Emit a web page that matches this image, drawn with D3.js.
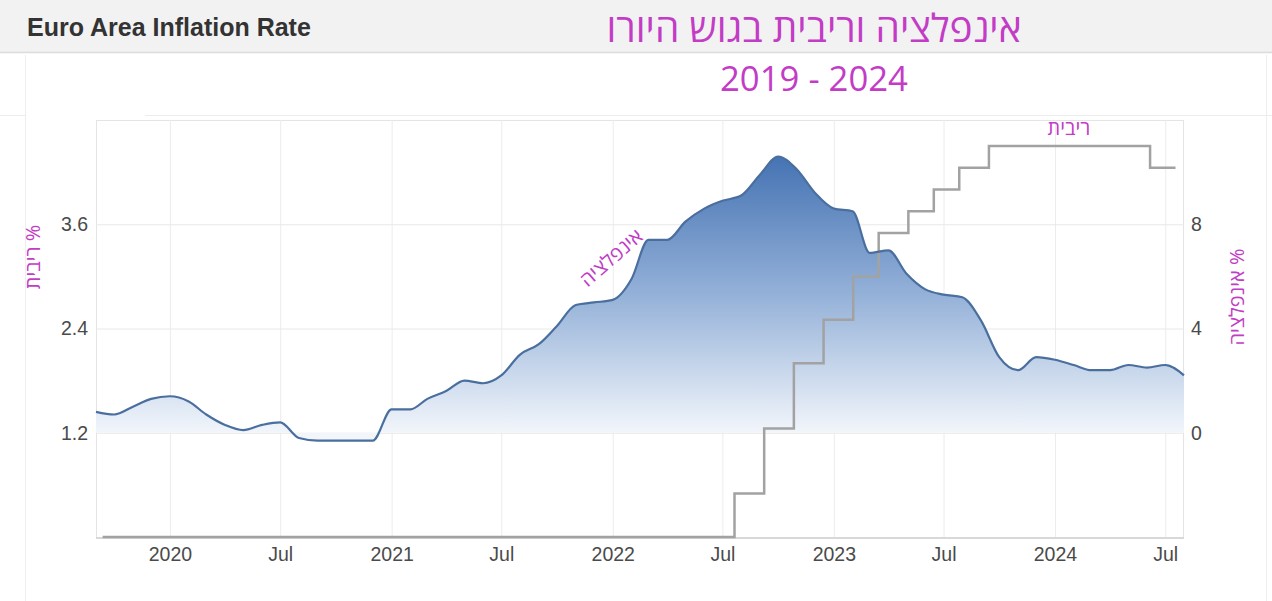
<!DOCTYPE html>
<html>
<head>
<meta charset="utf-8">
<script src="https://cdn.jsdelivr.net/npm/d3@7"></script>
<style>
  html, body { margin: 0; padding: 0; background: #ffffff; }
  svg { display: block; }
</style>
</head>
<body>
<svg id="chart" width="1272" height="601"></svg>
<script>
// ---------------- DATA ----------------
// Monthly euro area inflation (HICP, % y/y), Sep 2019 .. Aug 2024
const inflationStart = [2019, 9];
const inflationValues = [
  0.8, 0.7, 1.0, 1.3,
  1.4, 1.2, 0.7, 0.3, 0.1, 0.3, 0.4, -0.2, -0.3, -0.3, -0.3, -0.3,
  0.9, 0.9, 1.3, 1.6, 2.0, 1.9, 2.2, 3.0, 3.4, 4.1, 4.9, 5.0,
  5.1, 5.9, 7.4, 7.4, 8.1, 8.6, 8.9, 9.1, 9.9, 10.6, 10.1, 9.2,
  8.6, 8.5, 6.9, 7.0, 6.1, 5.5, 5.3, 5.2, 4.3, 2.9, 2.4, 2.9,
  2.8, 2.6, 2.4, 2.4, 2.6, 2.5, 2.6, 2.2
];
// ECB rate decisions (step line)
const rateDates = [
  "2019-09-12", "2022-07-21", "2022-09-08", "2022-10-27", "2022-12-15",
  "2023-02-02", "2023-03-16", "2023-05-04", "2023-06-15", "2023-07-27",
  "2023-09-14", "2024-06-06", "2024-07-18"
];
const rateValues = [0, 0.5, 1.25, 2.0, 2.5, 3.0, 3.5, 3.75, 4.0, 4.25, 4.5, 4.25, 4.25];

const xTickDates = [
  "2020-01-01", "2020-07-01", "2021-01-01", "2021-07-01", "2022-01-01",
  "2022-07-01", "2023-01-01", "2023-07-01", "2024-01-01", "2024-07-01"
];
const xTickLabels = ["2020", "Jul", "2021", "Jul", "2022", "Jul", "2023", "Jul", "2024", "Jul"];
const leftTicks = [1.2, 2.4, 3.6];
const rightTicks = [0, 4, 8];

const titleText = "Euro Area Inflation Rate";
const hebTitle1 = "אינפלציה וריבית בגוש היורו";
const hebTitle2 = "2019 - 2024";
const leftAxisTitle = "ריבית %";
const rightAxisTitle = "אינפלציה %";
const inflationLabel = "אינפלציה";
const rateLabel = "ריבית";

// ---------------- BUILD ----------------
const W = 1272, H = 601;
const plot = { left: 96, right: 1184, top: 120, bottom: 537 };
const magenta = "#c23cc6";
const tickFont = "'Liberation Sans', Arial, sans-serif";
const hebFont = "'Open Sans', 'Liberation Sans', 'DejaVu Sans', sans-serif";

const parse = d3.utcParse("%Y-%m-%d");
const inflation = inflationValues.map((v, i) => ({
  date: new Date(Date.UTC(inflationStart[0], inflationStart[1] - 1 + i, 1)),
  value: v
}));
const rates = rateDates.map((d, i) => ({ date: parse(d), value: rateValues[i] }));

const x = d3.scaleUtc()
  .domain([new Date(Date.UTC(2019, 8, 1)), new Date(Date.UTC(2024, 7, 1))])
  .range([plot.left, plot.right]);
const yL = d3.scaleLinear().domain([0, 4.8]).range([plot.bottom, plot.top]);
const yR = d3.scaleLinear().domain([-4, 12]).range([plot.bottom, plot.top]);

const svg = d3.select("#chart");

// header band
svg.append("rect").attr("x", 0).attr("y", 0).attr("width", W).attr("height", 52).attr("fill", "#f2f2f2");
svg.append("line").attr("x1", 0).attr("x2", W).attr("y1", 52.5).attr("y2", 52.5).attr("stroke", "#dcdcdc").attr("stroke-width", 1.5);
// faint panel frame lines (screenshot artifacts)
svg.append("line").attr("x1", 145).attr("x2", W).attr("y1", 115.5).attr("y2", 115.5).attr("stroke", "#ececec");
svg.append("line").attr("x1", 0).attr("x2", 25).attr("y1", 115.5).attr("y2", 115.5).attr("stroke", "#ececec");
svg.append("line").attr("x1", 25.5).attr("x2", 25.5).attr("y1", 55).attr("y2", H).attr("stroke", "#eeeeee");
svg.append("line").attr("x1", 1266.5).attr("x2", 1266.5).attr("y1", 55).attr("y2", H).attr("stroke", "#eeeeee");

svg.append("text").attr("x", 27).attr("y", 36)
  .attr("font-family", tickFont).attr("font-weight", "bold").attr("font-size", 25)
  .attr("fill", "#333333").text(titleText);

function fitText(sel, target) {
  const len = sel.node().getComputedTextLength();
  const fs = parseFloat(sel.attr("font-size"));
  if (len > 0) sel.attr("font-size", fs * target / len);
}
const t1 = svg.append("text").attr("x", 814).attr("y", 42).attr("text-anchor", "middle")
  .attr("font-family", hebFont).attr("font-size", 30).attr("fill", magenta).text(hebTitle1);
fitText(t1, 415);
const t2 = svg.append("text").attr("x", 814).attr("y", 91).attr("text-anchor", "middle")
  .attr("font-family", hebFont).attr("font-size", 34).attr("fill", magenta).text(hebTitle2);
fitText(t2, 188);

// plot border
svg.append("rect").attr("x", plot.left + 0.5).attr("y", plot.top + 0.5)
  .attr("width", plot.right - plot.left - 1).attr("height", plot.bottom - plot.top)
  .attr("fill", "none").attr("stroke", "#e4e4e4");

// vertical grid
const xTicks = xTickDates.map(parse);
svg.append("g").attr("transform", `translate(0,${plot.bottom})`)
  .call(d3.axisBottom(x).tickValues(xTicks).tickSize(-(plot.bottom - plot.top)).tickFormat(""))
  .call(g => g.select(".domain").remove())
  .call(g => g.selectAll("line").attr("stroke", "#ececec"));
// horizontal grid
svg.append("g").attr("transform", `translate(${plot.left},0)`)
  .call(d3.axisLeft(yL).tickValues(leftTicks).tickSize(-(plot.right - plot.left)).tickFormat(""))
  .call(g => g.select(".domain").remove())
  .call(g => g.selectAll("line").attr("stroke", "#e8e8e8"));

// bottom axis line
svg.append("line").attr("x1", plot.left).attr("x2", plot.right).attr("y1", plot.bottom + 1).attr("y2", plot.bottom + 1)
  .attr("stroke", "#d8d8d8").attr("stroke-width", 2);

// gradient
const defs = svg.append("defs");
const maxInf = d3.max(inflationValues);
const grad = defs.append("linearGradient").attr("id", "infGrad")
  .attr("gradientUnits", "userSpaceOnUse")
  .attr("x1", 0).attr("x2", 0).attr("y1", yR(maxInf)).attr("y2", yR(0));
grad.append("stop").attr("offset", 0).attr("stop-color", "#4573b3");
grad.append("stop").attr("offset", 0.5).attr("stop-color", "#94b1d8");
grad.append("stop").attr("offset", 1).attr("stop-color", "#f2f6fb");

const area = d3.area().x(d => x(d.date)).y0(yR(0)).y1(d => yR(d.value)).curve(d3.curveMonotoneX);
const line = d3.line().x(d => x(d.date)).y(d => yR(d.value)).curve(d3.curveMonotoneX);
svg.append("path").datum(inflation).attr("d", area).attr("fill", "url(#infGrad)");

// rate step line
const step = d3.line().x(d => x(d.date)).y(d => yL(d.value)).curve(d3.curveStepAfter);
svg.append("path").datum(rates).attr("d", step).attr("fill", "none")
  .attr("stroke", "#a2a2a2").attr("stroke-width", 2.5);

svg.append("path").datum(inflation).attr("d", line).attr("fill", "none")
  .attr("stroke", "#4a6f9f").attr("stroke-width", 2.2);

// x axis labels
svg.append("g").attr("transform", `translate(0,${plot.bottom})`)
  .call(d3.axisBottom(x).tickValues(xTicks).tickSize(0).tickPadding(0)
    .tickFormat((d, i) => xTickLabels[i]))
  .call(g => g.select(".domain").remove())
  .call(g => g.selectAll("text").attr("y", 24).attr("dy", 0)
    .attr("font-family", tickFont).attr("font-size", 19.5).attr("fill", "#4a4a4a"));

// left axis labels
svg.append("g").attr("transform", `translate(88,0)`)
  .call(d3.axisLeft(yL).tickValues(leftTicks).tickSize(0).tickPadding(0).tickFormat(d3.format(".1f")))
  .call(g => g.select(".domain").remove())
  .call(g => g.selectAll("text").attr("font-family", tickFont).attr("font-size", 19.5).attr("fill", "#4a4a4a"));
// right axis labels
svg.append("g").attr("transform", `translate(1191,0)`)
  .call(d3.axisRight(yR).tickValues(rightTicks).tickSize(0).tickPadding(0))
  .call(g => g.select(".domain").remove())
  .call(g => g.selectAll("text").attr("font-family", tickFont).attr("font-size", 19.5).attr("fill", "#4a4a4a"));

// axis titles
svg.append("text").attr("transform", "translate(40,257) rotate(-90)").attr("text-anchor", "middle")
  .attr("font-family", hebFont).attr("font-size", 20).attr("fill", magenta).text(leftAxisTitle);
svg.append("text").attr("transform", "translate(1244,297) rotate(-90)").attr("text-anchor", "middle")
  .attr("font-family", hebFont).attr("font-size", 20).attr("fill", magenta).text(rightAxisTitle);

// in-plot labels
svg.append("text").attr("transform", "translate(616,263) rotate(-41)").attr("text-anchor", "middle")
  .attr("font-family", hebFont).attr("font-size", 20).attr("fill", magenta).text(inflationLabel);
svg.append("text").attr("x", 1069).attr("y", 135).attr("text-anchor", "middle")
  .attr("font-family", hebFont).attr("font-size", 20).attr("fill", magenta).text(rateLabel);
</script>
</body>
</html>
